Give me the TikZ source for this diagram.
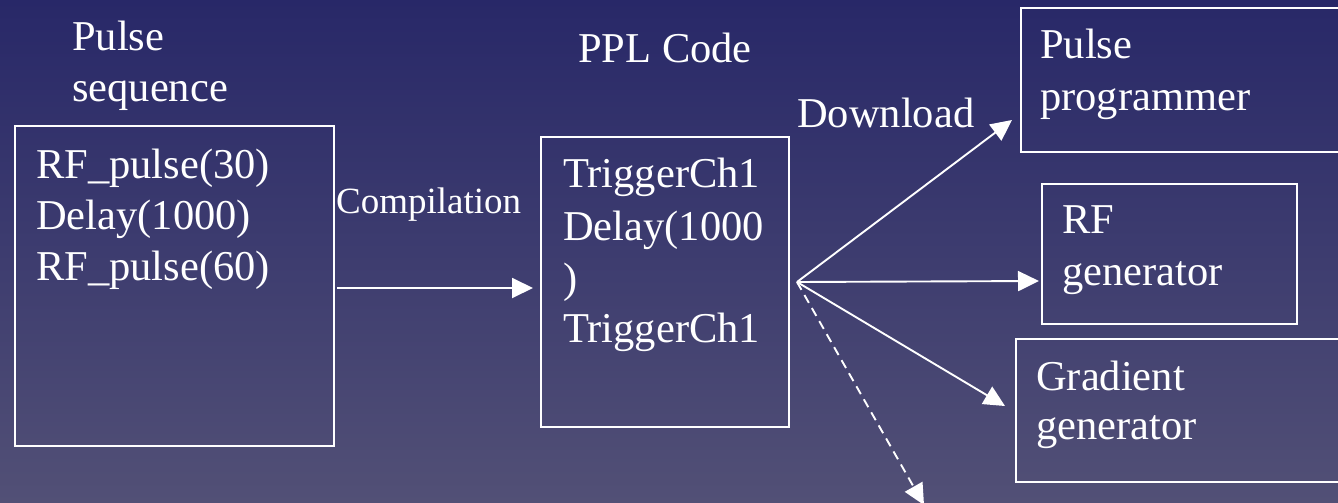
\documentclass[tikz,border=0pt]{standalone}
\usepackage{fontspec}
\setmainfont{Liberation Serif}
\usetikzlibrary{arrows.meta}
\definecolor{bgtop}{RGB}{40,40,104}
\definecolor{bgbot}{RGB}{82,80,118}
\begin{document}
\begin{tikzpicture}[x=1pt,y=-1pt,
  box/.style={draw=white,line width=1.8pt,inner sep=0pt,anchor=north west},
  txt/.style={text=white,anchor=base west,inner sep=0pt,font=\fontsize{42.5}{50}\selectfont},
  small/.style={text=white,anchor=base west,inner sep=0pt,font=\fontsize{37}{42}\selectfont},
  conn/.style={draw=white,line width=1.9pt,-{Triangle[length=21pt,width=20pt]}}]
\shade[top color=bgtop,bottom color=bgbot] (0,0) rectangle (1338,503);
\useasboundingbox (0,0) rectangle (1338,503);

% boxes
\node[box,minimum width=319pt,minimum height=320pt] (seq) at (14,125) {};
\node[box,minimum width=248pt,minimum height=290pt] (ppl) at (540,136) {};
\node[box,minimum width=330pt,minimum height=144pt] (pp) at (1020,7) {};
\node[box,minimum width=255pt,minimum height=140pt] (rf) at (1041,183) {};
\node[box,minimum width=335pt,minimum height=143pt] (grad) at (1015,338) {};

% titles
\node[txt] (t1a) at (72,51) {Pulse};
\node[txt] (t1b) at (72,101) {sequence};
\node[txt] (t2) at (578,63) {PPL Code};
\node[txt] (dl) at (797,127) {Download};
\node[small] (comp) at (336,213) {Compilation};

% left box text
\node[txt] (s1) at (36,178) {RF\_pulse(30)};
\node[txt] (s2) at (36,229) {Delay(1000)};
\node[txt] (s3) at (36,280) {RF\_pulse(60)};

% PPL text
\node[txt] (p1) at (563,187) {TriggerCh1};
\node[txt] (p2) at (563,240) {Delay(1000};
\node[txt] (p3) at (563,292) {)};
\node[txt] (p4) at (563,342) {TriggerCh1};

% right box text
\node[txt] (pp1) at (1040,59) {Pulse};
\node[txt] (pp2) at (1040,110) {programmer};
\node[txt] (rf1) at (1062,233) {RF};
\node[txt] (rf2) at (1062,285) {generator};
\node[txt] (g1) at (1036,390) {Gradient};
\node[txt] (g2) at (1036,439) {generator};

% connector points
\coordinate (cs) at (337,288);
\coordinate (ce) at (533,288);
\coordinate (fan) at (797,282);
\coordinate (e1) at (1012,120);
\coordinate (e2) at (1039,281);
\coordinate (e3) at (1005,406);
\coordinate (e4) at (924,505);

\draw[conn] (cs) -- (ce);
\draw[conn] (fan) -- (e1);
\draw[conn] (fan) -- (e2);
\draw[conn] (fan) -- (e3);
\draw[conn,dash pattern=on 9pt off 6pt] (fan) -- (e4);
\end{tikzpicture}
\end{document}
